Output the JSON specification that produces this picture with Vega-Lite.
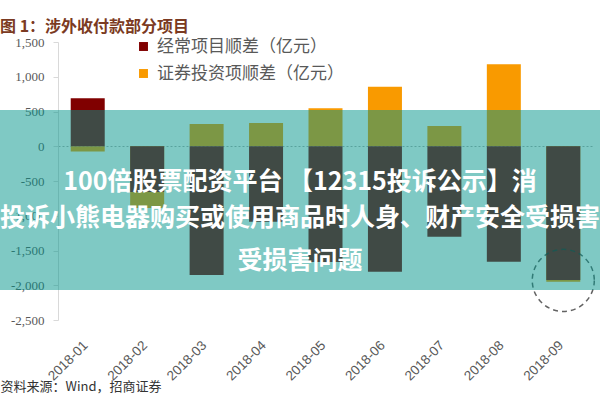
{
  "$schema": "https://vega.github.io/schema/vega-lite/v6.json",
  "autosize": "none",
  "width": 535,
  "height": 278,
  "padding": {"left": 58, "top": 42, "right": 7, "bottom": 80},
  "background": "white",
  "config": {"view": {"stroke": null}},
  "title": {
    "text": "图 1：涉外收付款部分项目",
    "anchor": "start",
    "frame": "group",
    "dx": -58,
    "dy": 14,
    "offset": 15,
    "fontSize": 16,
    "fontWeight": "bold",
    "font": "Noto Sans CJK SC",
    "color": "#7b3a22"
  },
  "datasets": {
    "bars": [
      {"month": "2018-01", "series": "证券投资项顺差（亿元）", "value": -75},
      {"month": "2018-02", "series": "证券投资项顺差（亿元）", "value": -890},
      {"month": "2018-03", "series": "证券投资项顺差（亿元）", "value": 320},
      {"month": "2018-04", "series": "证券投资项顺差（亿元）", "value": 335},
      {"month": "2018-05", "series": "证券投资项顺差（亿元）", "value": 545},
      {"month": "2018-06", "series": "证券投资项顺差（亿元）", "value": 855},
      {"month": "2018-07", "series": "证券投资项顺差（亿元）", "value": 292},
      {"month": "2018-08", "series": "证券投资项顺差（亿元）", "value": 1180},
      {"month": "2018-09", "series": "证券投资项顺差（亿元）", "value": -1950},
      {"month": "2018-01", "series": "经常项目顺差（亿元）", "value": 690},
      {"month": "2018-02", "series": "经常项目顺差（亿元）", "value": -657},
      {"month": "2018-03", "series": "经常项目顺差（亿元）", "value": -1853},
      {"month": "2018-04", "series": "经常项目顺差（亿元）", "value": -1085},
      {"month": "2018-05", "series": "经常项目顺差（亿元）", "value": -1665},
      {"month": "2018-06", "series": "经常项目顺差（亿元）", "value": -1805},
      {"month": "2018-07", "series": "经常项目顺差（亿元）", "value": -1301},
      {"month": "2018-08", "series": "经常项目顺差（亿元）", "value": -1661},
      {"month": "2018-09", "series": "经常项目顺差（亿元）", "value": -1926}
    ],
    "watermark": [
      {"line": "100倍股票配资平台 【12315投诉公示】消", "pos": -510},
      {"line": "投诉小熊电器购买或使用商品时人身、财产安全受损害", "pos": -1032},
      {"line": "受损害问题", "pos": -1651}
    ],
    "one": [{}]
  },
  "encoding": {
    "x": {
      "field": "month",
      "type": "ordinal",
      "scale": {"paddingInner": 0.428, "paddingOuter": 0.214},
      "axis": {
        "title": "资料来源：Wind，招商证券",
        "titleX": -58,
        "titleY": 66,
        "titleAlign": "left",
        "titleBaseline": "middle",
        "titleFont": "Noto Sans CJK SC",
        "titleFontSize": 13,
        "titleFontWeight": "normal",
        "titleColor": "#333333",
        "labelAngle": -45,
        "labelFont": "Liberation Sans",
        "labelFontSize": 13.5,
        "labelColor": "#595959",
        "labelPadding": 18,
        "labelOffset": -7,
        "domain": false,
        "ticks": false,
        "grid": false
      }
    },
    "y": {
      "type": "quantitative",
      "scale": {"domain": [-2500, 1500], "nice": false, "zero": false},
      "axis": {
        "title": null,
        "values": [-2500, -2000, -1500, -1000, -500, 0, 500, 1000, 1500],
        "labelExpr": "datum.value < 0 ? '-' + format(-datum.value, ',') : format(datum.value, ',')",
        "labelFont": "Liberation Serif",
        "labelFontSize": 13,
        "labelColor": "#595959",
        "labelPadding": 9,
        "tickSize": 5,
        "tickColor": "#d9d9d9",
        "domainColor": "#d9d9d9",
        "grid": true,
        "gridColor": "#b0b0b0",
        "gridDash": [2, 2],
        "gridOpacity": {"condition": {"test": "datum.value === 0", "value": 1}, "value": 0}
      }
    }
  },
  "layer": [
    {
      "data": {"name": "bars"},
      "mark": {"type": "bar"},
      "encoding": {
        "y": {"field": "value", "stack": null},
        "color": {
          "field": "series",
          "type": "nominal",
          "scale": {
            "domain": ["经常项目顺差（亿元）", "证券投资项顺差（亿元）"],
            "range": ["#800000", "#f99a00"]
          },
          "legend": {
            "title": null,
            "orient": "none",
            "legendX": 77,
            "legendY": -4,
            "symbolType": "square",
            "symbolSize": 80,
            "symbolStrokeWidth": 0,
            "labelFont": "Noto Sans CJK SC",
            "labelFontSize": 17,
            "labelColor": "#595959",
            "labelOffset": 5,
            "labelLimit": 0,
            "rowPadding": 9
          }
        }
      }
    },
    {
      "data": {"name": "one"},
      "mark": {"type": "point", "shape": "circle", "filled": false, "size": 3850, "stroke": "#222222", "strokeWidth": 1.5, "strokeDash": [5, 4]},
      "encoding": {"x": {"datum": "2018-09"}, "y": {"datum": -1930}}
    },
    {
      "data": {"name": "one"},
      "mark": {"type": "rect", "fill": "#00948a", "opacity": 0.5},
      "encoding": {"x": {"value": -58}, "x2": {"value": 542}, "y": {"datum": 521}, "y2": {"datum": -2068}}
    },
    {
      "data": {"name": "watermark"},
      "mark": {"type": "text", "font": "Noto Sans CJK SC", "fontWeight": "bold", "fontSize": 25, "color": "white", "align": "center", "baseline": "middle"},
      "encoding": {"text": {"field": "line"}, "x": {"value": 242}, "y": {"field": "pos", "type": "quantitative"}}
    }
  ]
}
